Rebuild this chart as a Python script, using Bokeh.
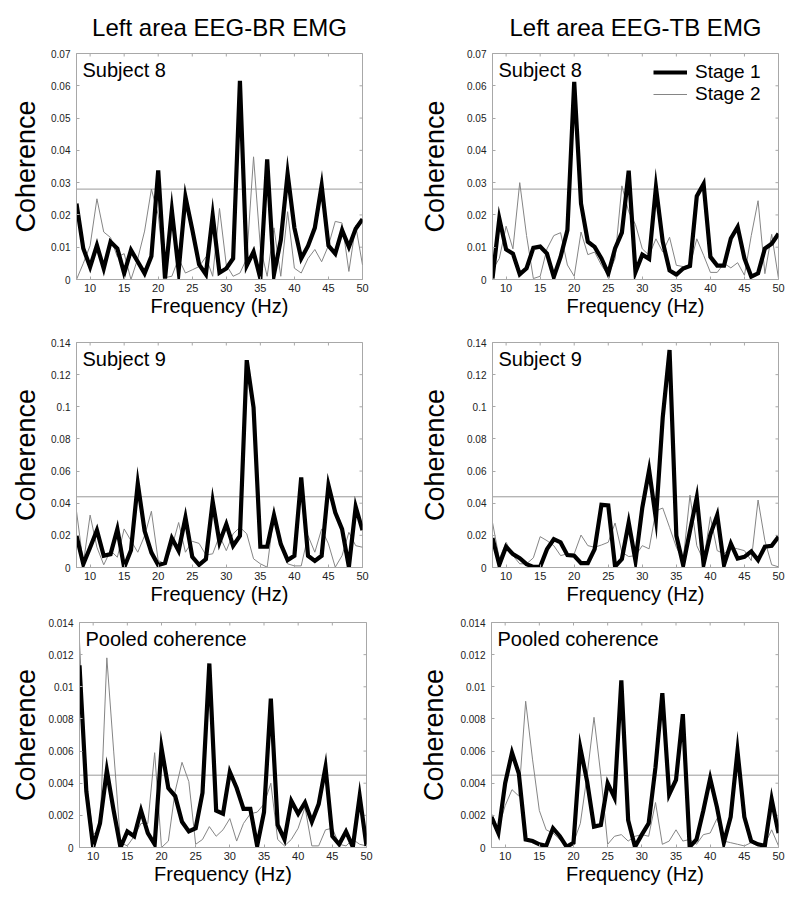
import math
from bokeh.plotting import figure
from bokeh.models import (Range1d, FixedTicker, Span, Label, Legend,
                          LegendItem, CustomJSTickFormatter)
from bokeh.layouts import column, row
from bokeh.embed import file_html
from bokeh.resources import INLINE

FONT = "Liberation Sans"

freq = [8, 9, 10, 11, 12, 13, 14, 15, 16, 17, 18, 19, 20, 21, 22, 23, 24, 25, 26, 27, 28,
        29, 30, 31, 32, 33, 34, 35, 36, 37, 38, 39, 40, 41, 42, 43, 44, 45, 46, 47, 48, 49, 50]

# Left area EEG-BR EMG
br_s8_stage1 = [0.0235, 0.0096, 0.0039, 0.0106, 0.0034, 0.0117, 0.0096, 0.0019, 0.0091, 0.0055,
                0.0019, 0.0072, 0.0338, 0.0003, 0.0215, 0.0027, 0.0256, 0.0155, 0.0047, 0.0016,
                0.0199, 0.0021, 0.0034, 0.0065, 0.0615, 0.0043, 0.0086, 0.0003, 0.0372, 0.0016,
                0.0122, 0.0328, 0.0160, 0.0065, 0.0104, 0.0160, 0.0291, 0.0105, 0.0080, 0.0153,
                0.0101, 0.0157, 0.0187]
br_s8_stage2 = [0.0, 0.005, 0.0105, 0.025, 0.0147, 0.013, 0.007, 0.008, 0.0, 0.0065,
                0.015, 0.028, 0.02, 0.0006, 0.001, 0.0065, 0.002, 0.003, 0.004, 0.007,
                0.001, 0.022, 0.0045, 0.001, 0.002, 0.0065, 0.038, 0.01, 0.001, 0.016,
                0.001, 0.021, 0.0035, 0.002, 0.0065, 0.0093, 0.0055, 0.0105, 0.018, 0.0175,
                0.0025, 0.0167, 0.0045]
br_s9_stage1 = [0.0197, 0.0021, 0.0124, 0.0232, 0.0073, 0.0083, 0.0239, 0.0, 0.0108, 0.0523,
                0.0228, 0.0093, 0.0015, 0.0027, 0.0183, 0.0104, 0.0311, 0.0066, 0.0017, 0.0052,
                0.0411, 0.0156, 0.027, 0.0135, 0.0197, 0.129, 0.0996, 0.0129, 0.0129, 0.0326,
                0.0145, 0.0046, 0.0073, 0.056, 0.0073, 0.0041, 0.0073, 0.0512, 0.0342, 0.0239,
                0.0004, 0.0378, 0.0232]
br_s9_stage2 = [0.035, 0.0023, 0.0326, 0.0126, 0.0017, 0.0105, 0.0064, 0.024, 0.0167, 0.0095,
                0.0198, 0.035, 0.0043, 0.0023, 0.0126, 0.028, 0.0095, 0.0163, 0.015, 0.0078,
                0.0085, 0.0198, 0.0105, 0.021, 0.025, 0.021, 0.0054, 0.0023, 0.0002, 0.0335,
                0.0167, 0.0023, 0.001, 0.001, 0.0198, 0.0095, 0.024, 0.0147, 0.0002, 0.0074,
                0.0219, 0.0136, 0.0126]
br_pool_stage1 = [0.01134, 0.0035, 0.00004, 0.0015, 0.0048, 0.0023, 0.0, 0.001, 0.0007, 0.0023,
                  0.0009, 0.0002, 0.0062, 0.0037, 0.0032, 0.0016, 0.001, 0.0012, 0.0034, 0.01145,
                  0.0023, 0.0021, 0.0047, 0.0037, 0.0024, 0.0024, 0.0001, 0.0022, 0.00926, 0.0014,
                  0.0005, 0.0029, 0.0021, 0.0028, 0.0016, 0.0027, 0.005, 0.0007, 0.0002, 0.001,
                  0.00004, 0.0032, 0.0001]
br_pool_stage2 = [0.0128, 0.004, 0.0008, 0.0012, 0.0118, 0.006, 0.0003, 0.0001, 0.0007, 0.0015,
                  0.0015, 0.0059, 0.0, 0.0004, 0.0035, 0.0053, 0.0041, 0.0002, 0.0005, 0.0013,
                  0.0007, 0.0011, 0.0018, 0.0004, 0.0015, 0.0021, 0.0022, 0.0027, 0.004, 0.0005,
                  0.0001, 0.0005, 0.0012, 0.0025, 0.0001, 0.0001, 0.0011, 0.0012, 0.0002, 0.0001,
                  0.0005, 0.0002, 0.0001]

# Left area EEG-TB EMG
tb_s8_stage1 = [0.0003, 0.0189, 0.0093, 0.0080, 0.0016, 0.0035, 0.0098, 0.0102, 0.0080, 0.0008,
                0.0070, 0.0153, 0.0612, 0.0235, 0.0117, 0.0101, 0.0065, 0.0018, 0.0096, 0.0145,
                0.0337, 0.0023, 0.0077, 0.0064, 0.0286, 0.0117, 0.0028, 0.0015, 0.0034, 0.0042,
                0.0258, 0.0296, 0.0070, 0.0043, 0.0043, 0.0127, 0.0163, 0.0065, 0.0009, 0.0019,
                0.0096, 0.0111, 0.0142]
tb_s8_stage2 = [0.003, 0.0065, 0.0165, 0.0095, 0.030, 0.0136, 0.0003, 0.001, 0.0095, 0.0136,
                0.0145, 0.0045, 0.001, 0.0147, 0.0077, 0.0085, 0.0044, 0.0013, 0.0065, 0.029,
                0.021, 0.017, 0.0095, 0.0075, 0.0126, 0.0085, 0.0131, 0.0044, 0.004, 0.0044,
                0.0126, 0.0075, 0.0022, 0.0022, 0.005, 0.0036, 0.0052, 0.0013, 0.0136, 0.0244,
                0.0018, 0.014, 0.0003]
tb_s9_stage1 = [0.0183, 0.0017, 0.0129, 0.0083, 0.0058, 0.0021, 0.0004, 0.0004, 0.0114, 0.0176,
                0.0156, 0.0077, 0.0073, 0.0027, 0.0027, 0.0114, 0.039, 0.0386, 0.0006, 0.0052,
                0.028, 0.0041, 0.0373, 0.0606, 0.0301, 0.0934, 0.1353, 0.0197, 0.0015, 0.0228,
                0.0436, 0.0021, 0.0207, 0.0326, 0.0017, 0.0149, 0.0056, 0.0066, 0.01, 0.0046,
                0.0129, 0.0135, 0.0191]
tb_s9_stage2 = [0.028, 0.0054, 0.0157, 0.0074, 0.0023, 0.0023, 0.006, 0.0192, 0.0167, 0.0136,
                0.0074, 0.0085, 0.0085, 0.0202, 0.0136, 0.0126, 0.014, 0.0157, 0.0277, 0.0095,
                0.0068, 0.0074, 0.0136, 0.0116, 0.0353, 0.037, 0.025, 0.0126, 0.0043, 0.045,
                0.0136, 0.0043, 0.0316, 0.0105, 0.0085, 0.0126, 0.0116, 0.0105, 0.0043, 0.042,
                0.0167, 0.0017, 0.0004]
tb_pool_stage1 = [0.0019, 0.0009, 0.004, 0.0059, 0.0046, 0.0005, 0.0004, 0.0002, 0.0001, 0.0012,
                  0.0007, 0.00004, 0.0003, 0.0062, 0.0041, 0.0013, 0.0014, 0.004, 0.0031, 0.0104,
                  0.0017, 0.00004, 0.0008, 0.0015, 0.005, 0.0096, 0.0033, 0.0042, 0.0083, 0.00004,
                  0.0005, 0.0023, 0.0043, 0.0025, 0.0003, 0.0019, 0.006, 0.0019, 0.0004, 0.0002,
                  0.0001, 0.003, 0.0009]
tb_pool_stage2 = [0.0021, 0.0012, 0.0026, 0.0036, 0.0032, 0.0091, 0.0055, 0.0023, 0.0011, 0.0009,
                  0.0005, 0.0001, 0.0003, 0.0015, 0.0045, 0.0081, 0.0045, 0.0002, 0.0007, 0.0008,
                  0.0004, 0.0007, 0.0008, 0.0007, 0.0028, 0.0002, 0.0004, 0.0011, 0.0004, 0.0005,
                  0.0002, 0.0008, 0.0009, 0.0018, 0.0004, 0.0003, 0.0002, 0.0001, 0.0003, 0.0001,
                  0.0002, 0.0011, 0.0001]

# significance thresholds per row
thresholds = [0.028, 0.044, 0.0045]

x_limits = [8, 50]
x_ticks = [10, 15, 20, 25, 30, 35, 40, 45, 50]
y_ticks_s8 = [0, 0.01, 0.02, 0.03, 0.04, 0.05, 0.06, 0.07]
y_ticks_s9 = [0, 0.02, 0.04, 0.06, 0.08, 0.1, 0.12, 0.14]
y_ticks_pool = [0, 0.002, 0.004, 0.006, 0.008, 0.01, 0.012, 0.014]

column_titles = ["Left area EEG-BR EMG", "Left area EEG-TB EMG"]
panel_notes = ["Subject 8", "Subject 9", "Pooled coherence"]
legend_labels = ["Stage 1", "Stage 2"]

AX_GRAY = "#a8a8a8"
fmt = CustomJSTickFormatter(code="return String(Number(tick.toPrecision(6)));")


def make_panel(s1, s2, thr, yticks, note, fw, fh, b_left, b_right, b_top, b_bottom,
               ylab_standoff, title=None, legend=False):
    kw = {}
    if title is not None:
        kw["title"] = title
    ymax = yticks[-1]
    p = figure(frame_width=fw, frame_height=fh,
               x_range=Range1d(x_limits[0], x_limits[1]), y_range=Range1d(0, ymax),
               output_backend="svg", toolbar_location=None,
               min_border_left=b_left, min_border_right=b_right,
               min_border_top=b_top, min_border_bottom=b_bottom, **kw)
    p.background_fill_color = "white"
    p.border_fill_color = "white"
    p.outline_line_color = AX_GRAY
    p.xgrid.visible = False
    p.ygrid.visible = False
    if title is not None:
        p.title.text_font = FONT
        p.title.text_font_size = "24px"
        p.title.text_font_style = "normal"
        p.title.align = "center"
        p.title.vertical_align = "top"
        p.title.text_color = "black"
        p.title.standoff = 21

    xa = p.xaxis[0]
    xa.ticker = FixedTicker(ticks=x_ticks, minor_ticks=[])
    ya = p.yaxis[0]
    ya.ticker = FixedTicker(ticks=yticks, minor_ticks=[])
    ya.formatter = fmt
    for ax in (xa, ya):
        ax.axis_line_color = AX_GRAY
        ax.major_tick_line_color = AX_GRAY
        ax.major_tick_in = 3
        ax.major_tick_out = 0
        ax.minor_tick_line_color = None
        ax.major_label_text_font = FONT
        ax.major_label_text_color = "#222222"
        ax.major_label_standoff = 6
        ax.axis_label_text_font = FONT
        ax.axis_label_text_font_style = "normal"
        ax.axis_label_text_color = "black"
    xa.major_label_text_font_size = "11px"
    ya.major_label_text_font_size = "10px"
    xa.major_label_standoff = 4
    xa.axis_label = "Frequency (Hz)"
    xa.axis_label_text_font_size = "20px"
    xa.axis_label_standoff = 0
    ya.axis_label = "Coherence"
    ya.axis_label_text_font_size = "27px"
    ya.axis_label_standoff = ylab_standoff

    # mirrored tick marks on the top and right edges (clipped to the frame)
    p.scatter(x_ticks, [ymax] * len(x_ticks), marker="dash", size=6, angle=math.pi / 2,
              line_color=AX_GRAY, line_width=1)
    p.scatter([x_limits[1]] * len(yticks), yticks, marker="dash", size=6,
              line_color=AX_GRAY, line_width=1)

    p.add_layout(Span(location=thr, dimension="width", line_color="#999999",
                      line_width=1, level="underlay"))

    r2 = p.line(freq, s2, line_color="#858585", line_width=1)
    r1 = p.line(freq, s1, line_color="black", line_width=4.2, line_join="miter")

    p.add_layout(Label(x=6, y=fh - 5, x_units="screen", y_units="screen", text=note,
                       text_font=FONT, text_font_size="20px", text_baseline="top",
                       text_color="black"))

    if legend:
        for lab, rend, vy in ((legend_labels[0], r1, 196), (legend_labels[1], r2, 174)):
            lg = Legend(items=[LegendItem(label=lab, renderers=[rend])], location=(161, vy))
            lg.padding = 0
            lg.margin = 0
            lg.spacing = 0
            lg.border_line_alpha = 0
            lg.background_fill_alpha = 0
            lg.label_text_font = FONT
            lg.label_text_font_size = "19px"
            lg.label_text_color = "black"
            lg.glyph_width = 34
            lg.glyph_height = 22
            lg.label_height = 22
            lg.label_standoff = 8
            p.add_layout(lg)
    return p


p1 = make_panel(br_s8_stage1, br_s8_stage2, thresholds[0], y_ticks_s8, panel_notes[0],
                286, 226, 76, 46, 53, 42, 7, title=column_titles[0])
p2 = make_panel(tb_s8_stage1, tb_s8_stage2, thresholds[0], y_ticks_s8, panel_notes[0],
                286, 226, 84, 10, 53, 42, 14, title=column_titles[1], legend=True)
p3 = make_panel(br_s9_stage1, br_s9_stage2, thresholds[1], y_ticks_s9, panel_notes[1],
                286, 225, 76, 46, 21, 42, 7)
p4 = make_panel(tb_s9_stage1, tb_s9_stage2, thresholds[1], y_ticks_s9, panel_notes[1],
                286, 225, 84, 10, 21, 42, 14)
p5 = make_panel(br_pool_stage1, br_pool_stage2, thresholds[2], y_ticks_pool, panel_notes[2],
                287, 225, 79, 42, 13, 45, 4)
p6 = make_panel(tb_pool_stage1, tb_pool_stage2, thresholds[2], y_ticks_pool, panel_notes[2],
                287, 225, 83, 10, 13, 45, 8)

layout = column(row(p1, p2), row(p3, p4), row(p5, p6))

with open("out.html", "w") as f:
    f.write(file_html(layout, INLINE))
